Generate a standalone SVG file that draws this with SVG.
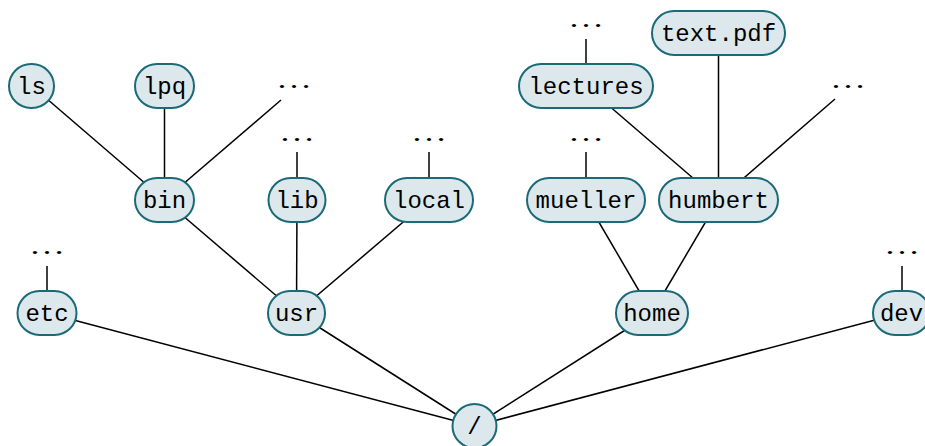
<svg xmlns="http://www.w3.org/2000/svg" width="925" height="446" viewBox="0 0 925 446">
<style>
.n rect{fill:#dde8ec;stroke:#1a6a78;stroke-width:2}
.n text{font-family:"Liberation Mono","DejaVu Sans Mono",monospace;font-size:24px;fill:#000;text-anchor:middle}
.d{font-family:"Liberation Serif","DejaVu Serif",serif;font-size:26px;fill:#000;text-anchor:middle}
#edges line{stroke:#000;stroke-width:1.5}
</style>
<rect width="925" height="446" fill="#fff"/>
<g id="edges">
<line x1="32" y1="86" x2="164.5" y2="200"/>
<line x1="164.5" y1="86" x2="164.5" y2="200"/>
<line x1="164.5" y1="200" x2="281" y2="100"/>
<line x1="297" y1="152" x2="297" y2="200"/>
<line x1="429" y1="152" x2="429" y2="200"/>
<line x1="164.5" y1="200" x2="296.5" y2="313"/>
<line x1="297" y1="200" x2="296.5" y2="313"/>
<line x1="429" y1="200" x2="296.5" y2="313"/>
<line x1="586" y1="39" x2="586" y2="86"/>
<line x1="586" y1="86" x2="718.5" y2="200"/>
<line x1="718.5" y1="33" x2="718.5" y2="200"/>
<line x1="718.5" y1="200" x2="835" y2="99"/>
<line x1="586" y1="152" x2="586" y2="200"/>
<line x1="586" y1="200" x2="652" y2="313"/>
<line x1="718.5" y1="200" x2="652" y2="313"/>
<line x1="47" y1="266" x2="47" y2="313"/>
<line x1="902" y1="266" x2="902" y2="313"/>
<line x1="47" y1="313" x2="474.5" y2="426"/>
<line x1="296.5" y1="313" x2="474.5" y2="426"/>
<line x1="652" y1="313" x2="474.5" y2="426"/>
<line x1="901.5" y1="313" x2="474.5" y2="426"/>
</g>
<g id="root" class="n"><rect x="452.5" y="404" width="44" height="44" rx="22"/><text x="474.5" y="434">/</text></g>
<g id="etc" class="n"><rect x="17.5" y="291" width="59" height="44" rx="22"/><text x="47" y="321">etc</text></g>
<g id="usr" class="n"><rect x="268" y="291" width="57" height="44" rx="22"/><text x="296.5" y="321">usr</text></g>
<g id="home" class="n"><rect x="616" y="291" width="72" height="44" rx="22"/><text x="652" y="321">home</text></g>
<g id="dev" class="n"><rect x="873" y="291" width="57" height="44" rx="22"/><text x="901.5" y="321">dev</text></g>
<g id="bin" class="n"><rect x="135" y="178" width="59" height="44" rx="22"/><text x="164.5" y="208">bin</text></g>
<g id="lib" class="n"><rect x="268.5" y="178" width="57" height="44" rx="22"/><text x="297" y="208">lib</text></g>
<g id="local" class="n"><rect x="385" y="178" width="88" height="44" rx="22"/><text x="429" y="208">local</text></g>
<g id="mueller" class="n"><rect x="527" y="178" width="118" height="44" rx="22"/><text x="586" y="208">mueller</text></g>
<g id="humbert" class="n"><rect x="659" y="178" width="119" height="44" rx="22"/><text x="718.5" y="208">humbert</text></g>
<g id="ls" class="n"><rect x="9" y="64" width="45" height="44" rx="22"/><text x="31.5" y="94">ls</text></g>
<g id="lpq" class="n"><rect x="135" y="64" width="59" height="44" rx="22"/><text x="164.5" y="94">lpq</text></g>
<g id="lectures" class="n"><rect x="519" y="64" width="134" height="44" rx="22"/><text x="586" y="94">lectures</text></g>
<g id="textpdf" class="n"><rect x="652" y="11" width="133" height="44" rx="22"/><text x="718.5" y="41">text.pdf</text></g>
<g id="dots">
<text class="d" x="294" y="87.5" textLength="36" lengthAdjust="spacingAndGlyphs">…</text>
<text class="d" x="297" y="140.5" textLength="36" lengthAdjust="spacingAndGlyphs">…</text>
<text class="d" x="429" y="140.5" textLength="36" lengthAdjust="spacingAndGlyphs">…</text>
<text class="d" x="586" y="26.5" textLength="36" lengthAdjust="spacingAndGlyphs">…</text>
<text class="d" x="586" y="140.5" textLength="36" lengthAdjust="spacingAndGlyphs">…</text>
<text class="d" x="848" y="87.5" textLength="36" lengthAdjust="spacingAndGlyphs">…</text>
<text class="d" x="47" y="254" textLength="36" lengthAdjust="spacingAndGlyphs">…</text>
<text class="d" x="902" y="254" textLength="36" lengthAdjust="spacingAndGlyphs">…</text>
</g>
</svg>
